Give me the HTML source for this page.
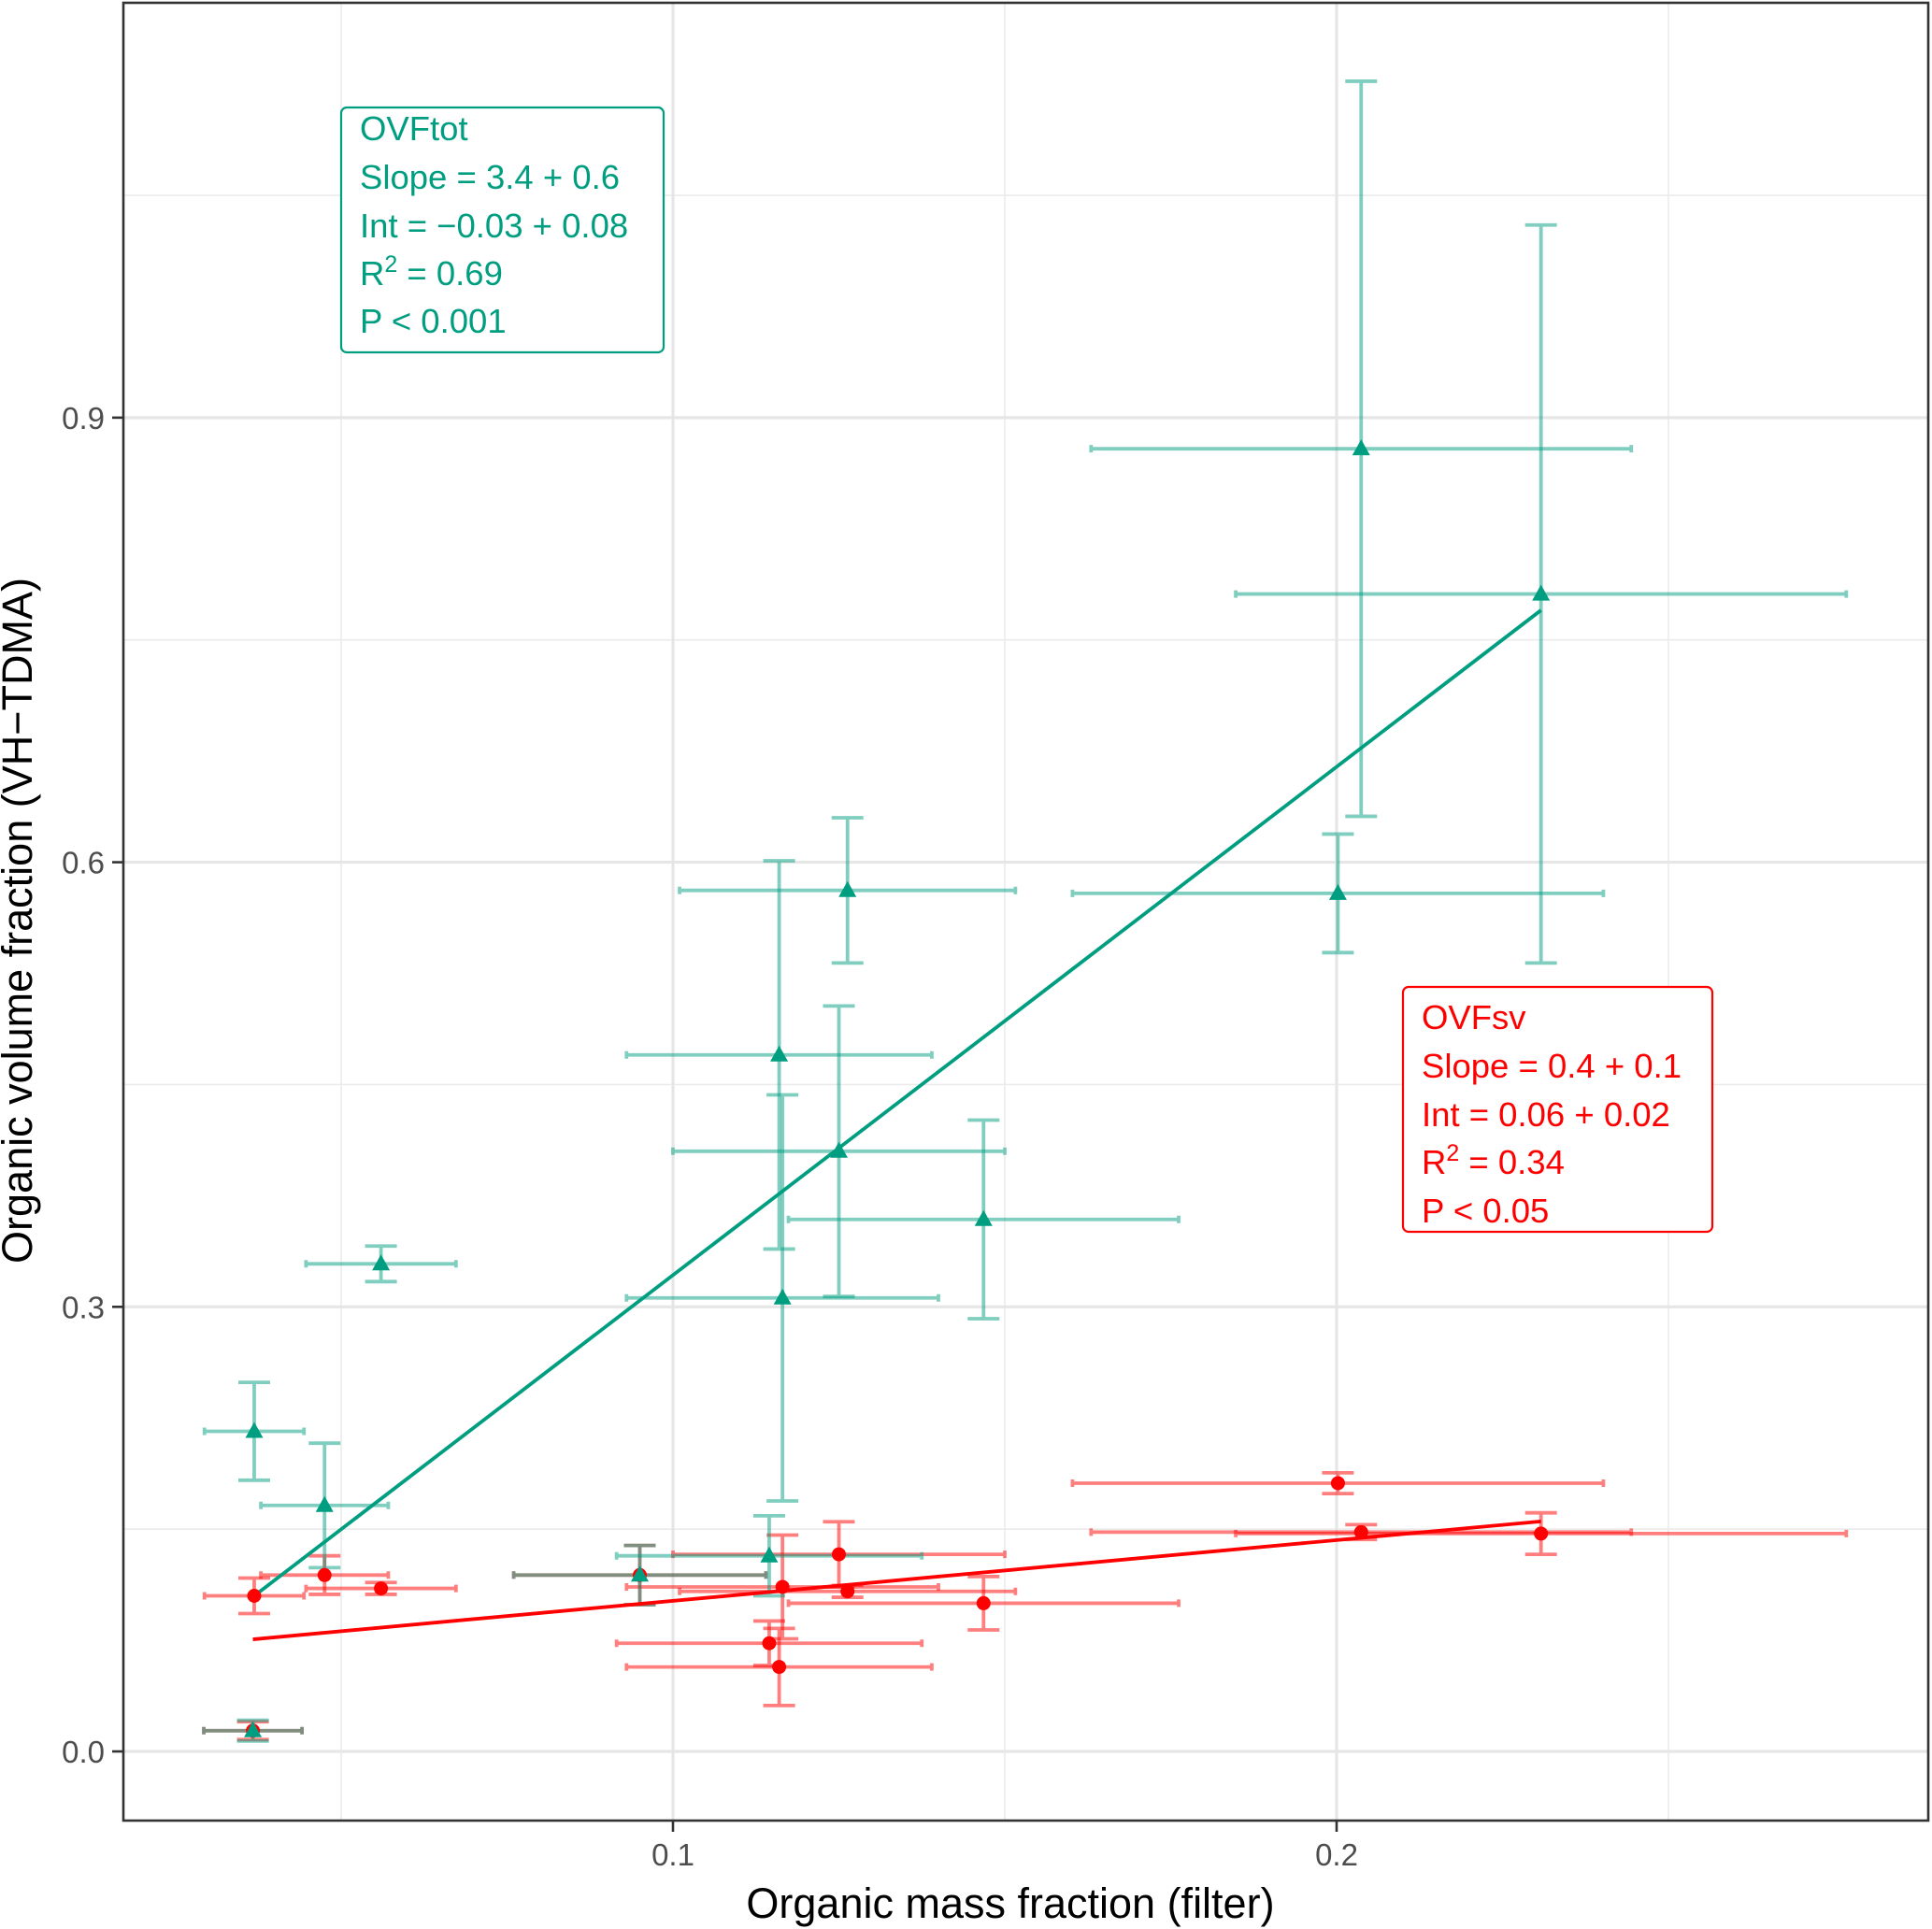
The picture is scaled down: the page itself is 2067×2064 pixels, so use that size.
<!DOCTYPE html>
<html><head><meta charset="utf-8"><style>
html,body{margin:0;padding:0;background:#fff}
svg{display:block}
text{font-family:"Liberation Sans",sans-serif}
</style></head><body>
<svg id="chart" width="2067" height="2064" viewBox="0 0 2067 2064" xmlns="http://www.w3.org/2000/svg">
<g id="grid"></g>
<g id="marks"></g>
<rect x="132" y="3" width="1931" height="1945" fill="none" stroke="#333" stroke-width="2.6"/>
<g id="axes"></g>
<text x="1081" y="2052" font-size="45" text-anchor="middle" fill="#000">Organic mass fraction (filter)</text>
<text transform="translate(34,985) rotate(-90)" font-size="45" text-anchor="middle" fill="#000">Organic volume fraction (VH−TDMA)</text>
<g>
<rect x="365" y="115" width="345" height="262" rx="6" fill="#fff" stroke="#009E80" stroke-width="2.2"/>
<g fill="#009E80" font-size="36.5">
<text x="385" y="150">OVFtot</text>
<text x="385" y="202">Slope = 3.4 + 0.6</text>
<text x="385" y="254">Int = −0.03 + 0.08</text>
<text x="385" y="305">R<tspan font-size="25" dy="-14">2</tspan><tspan dy="14"> = 0.69</tspan></text>
<text x="385" y="356">P &lt; 0.001</text>
</g></g>
<g>
<rect x="1501" y="1056" width="331" height="262" rx="6" fill="#fff" stroke="#FF0000" stroke-width="2.2"/>
<g fill="#FF0000" font-size="36.5">
<text x="1521" y="1101">OVFsv</text>
<text x="1521" y="1153">Slope = 0.4 + 0.1</text>
<text x="1521" y="1205">Int = 0.06 + 0.02</text>
<text x="1521" y="1256">R<tspan font-size="25" dy="-14">2</tspan><tspan dy="14"> = 0.34</tspan></text>
<text x="1521" y="1308">P &lt; 0.05</text>
</g></g>
</svg>
<script>
const xVals=[0.0369,0.0475,0.056,0.0367,0.095,0.1145,0.116,0.1165,0.125,0.1263,0.1468,0.2002,0.2037,0.2308];
const xErr=[0.0075,0.0096,0.0113,0.0074,0.019,0.023,0.023,0.0235,0.025,0.0253,0.0294,0.040,0.0407,0.046];
const totVals=[0.216,0.166,0.329,0.014,0.119,0.132,0.470,0.306,0.405,0.581,0.359,0.579,0.879,0.781];
const totErr=[0.033,0.042,0.012,0.007,0.02,0.027,0.131,0.137,0.098,0.049,0.067,0.04,0.248,0.249];
const svVals=[0.105,0.119,0.110,0.014,0.119,0.073,0.057,0.111,0.133,0.108,0.100,0.181,0.148,0.147];
const svErr=[0.012,0.013,0.004,0.006,0.02,0.015,0.026,0.035,0.022,0.004,0.018,0.007,0.005,0.014];
const totFit=[3.43,-0.0216];
const svFit=[0.41,0.0606];
const xTicks=[0.1,0.2];const xMinor=[0.05,0.15,0.25];
const yTicks=[0.0,0.3,0.6,0.9];const yMinor=[0.15,0.45,0.75,1.05];
const X=v=>720+(v-0.1)*7100;
const Y=v=>1874-v*1585.7;
const NS="http://www.w3.org/2000/svg";
function mk(tag,attrs,parent){const e=document.createElementNS(NS,tag);for(const k in attrs)e.setAttribute(k,attrs[k]);parent.appendChild(e);return e;}
const grid=document.getElementById('grid'),marks=document.getElementById('marks'),axes=document.getElementById('axes');
xMinor.forEach(v=>{const l=mk('line',{x1:X(v),x2:X(v),y1:3,y2:1948,stroke:'#EBEBEB','stroke-width':1.6},grid);

});
yMinor.forEach(v=>{const l=mk('line',{x1:132,x2:2063,y1:Y(v),y2:Y(v),stroke:'#EBEBEB','stroke-width':1.6},grid);

});
xTicks.forEach(v=>{const l=mk('line',{x1:X(v),x2:X(v),y1:3,y2:1948,stroke:'#E6E6E6','stroke-width':3.2},grid);


const t=mk('line',{x1:X(v),x2:X(v),y1:1948,y2:1960,stroke:'#333','stroke-width':2.6},axes);


const tx=mk('text',{x:X(v),y:1996,'font-size':33,'text-anchor':'middle',fill:'#4D4D4D'},axes);tx.textContent=v.toFixed(1);

});
yTicks.forEach(v=>{const l=mk('line',{x1:132,x2:2063,y1:Y(v),y2:Y(v),stroke:'#E6E6E6','stroke-width':3.2},grid);


const t=mk('line',{x1:120,x2:132,y1:Y(v),y2:Y(v),stroke:'#333','stroke-width':2.6},axes);


const tx=mk('text',{x:112,y:Y(v)+12,'font-size':33,'text-anchor':'end',fill:'#4D4D4D'},axes);tx.textContent=v.toFixed(1);

});
function series(vals,errs,color,name){
  const g=mk('g',{},marks);
  
  
  vals.forEach((v,i)=>{
    const cx=X(xVals[i]),cy=Y(v),x0=X(xVals[i]-xErr[i]),x1=X(xVals[i]+xErr[i]),y0=Y(v-errs[i]),y1=Y(v+errs[i]);
    const p=mk('path',{d:`M${x0},${cy}H${x1}M${x0},${cy-4}V${cy+4}M${x1},${cy-4}V${cy+4}M${cx},${y0}V${y1}M${cx-17},${y0}H${cx+17}M${cx-17},${y1}H${cx+17}`,stroke:color,'stroke-opacity':0.5,'stroke-width':3.8,fill:'none'},g);
    
    
  });
}
function fit(f,color,name){
  const a=Math.min(...xVals),b=Math.max(...xVals);
  const l=mk('line',{x1:X(a),y1:Y(f[1]+f[0]*a),x2:X(b),y2:Y(f[1]+f[0]*b),stroke:color,'stroke-width':3.8},marks);
  
  
}
series(svVals,svErr,'#FF0000','ovfsv');
series(totVals,totErr,'#009E80','ovftot');
fit(totFit,'#009E80','ovftot');
fit(svFit,'#FF0000','ovfsv');
svVals.forEach((v,i)=>{const c=mk('circle',{cx:X(xVals[i]),cy:Y(v),r:7.5,fill:'#FF0000'},marks);

});
totVals.forEach((v,i)=>{const cx=X(xVals[i]),cy=Y(v);
const p=mk('path',{d:`M${cx},${cy-10}L${cx+9.5},${cy+7}L${cx-9.5},${cy+7}Z`,fill:'#009E80'},marks);

});
</script>
</body></html>
